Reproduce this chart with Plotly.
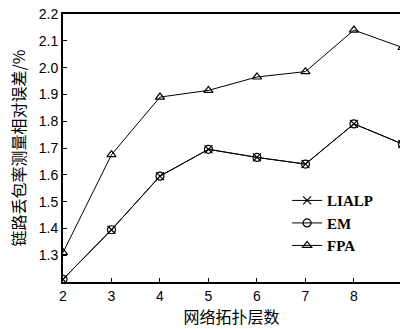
import plotly.graph_objects as go

layers = [2, 3, 4, 5, 6, 7, 8, 9]
lialp = [1.21, 1.395, 1.595, 1.695, 1.665, 1.64, 1.79, 1.715]
em = [1.21, 1.395, 1.595, 1.695, 1.665, 1.64, 1.79, 1.715]
fpa = [1.31, 1.675, 1.89, 1.915, 1.965, 1.985, 2.14, 2.075]
yticks = [1.3, 1.4, 1.5, 1.6, 1.7, 1.8, 1.9, 2.0, 2.1, 2.2]

fig = go.Figure()
series = [("LIALP", lialp, "x-thin-open"), ("EM", em, "circle-open"), ("FPA", fpa, "triangle-up-open")]
for name, vals, sym in series:
    fig.add_trace(go.Scatter(
        x=layers, y=vals, name=name, mode="lines+markers",
        line=dict(color="black", width=1),
        marker=dict(symbol=sym, size=8, color="black", line=dict(color="black", width=1.2)),
        cliponaxis=True,
    ))

fig.update_layout(
    width=400, height=329,
    margin=dict(l=63, r=0, t=14, b=47),
    paper_bgcolor="white", plot_bgcolor="white",
    showlegend=True,
    legend=dict(x=0.665, y=0.365, xanchor="left", yanchor="top",
                font=dict(family="Liberation Serif", size=15, color="black", weight="bold"),
                bgcolor="rgba(0,0,0,0)", tracegroupgap=0, itemwidth=30),
    font=dict(family="Liberation Sans", size=14, color="black"),
)
fig.update_xaxes(
    range=[2, 8.95], tickvals=layers, ticks="inside", ticklen=4, tickcolor="black",
    showline=True, linecolor="black", linewidth=2, mirror=True, showgrid=False, zeroline=False,
    automargin=False,
    title=dict(text="网络拓扑层数", font=dict(family="Noto Sans CJK SC", size=16), standoff=0),
    tickfont=dict(family="Liberation Sans", size=14),
)
fig.update_yaxes(
    range=[1.2, 2.2], tickvals=yticks, ticktext=[f"{v:.1f}" for v in yticks],
    ticks="inside", ticklen=4, tickcolor="black",
    showline=True, linecolor="black", linewidth=2, mirror=True, showgrid=False, zeroline=False,
    automargin=False,
    title=dict(text="链路丢包率测量相对误差/%", font=dict(family="Noto Sans CJK SC", size=16), standoff=9),
    tickfont=dict(family="Liberation Sans", size=14),
)
fig.write_html("out.html", config={"displayModeBar": False},
               post_script="document.body.style.margin='0';document.body.style.overflow='hidden';")
